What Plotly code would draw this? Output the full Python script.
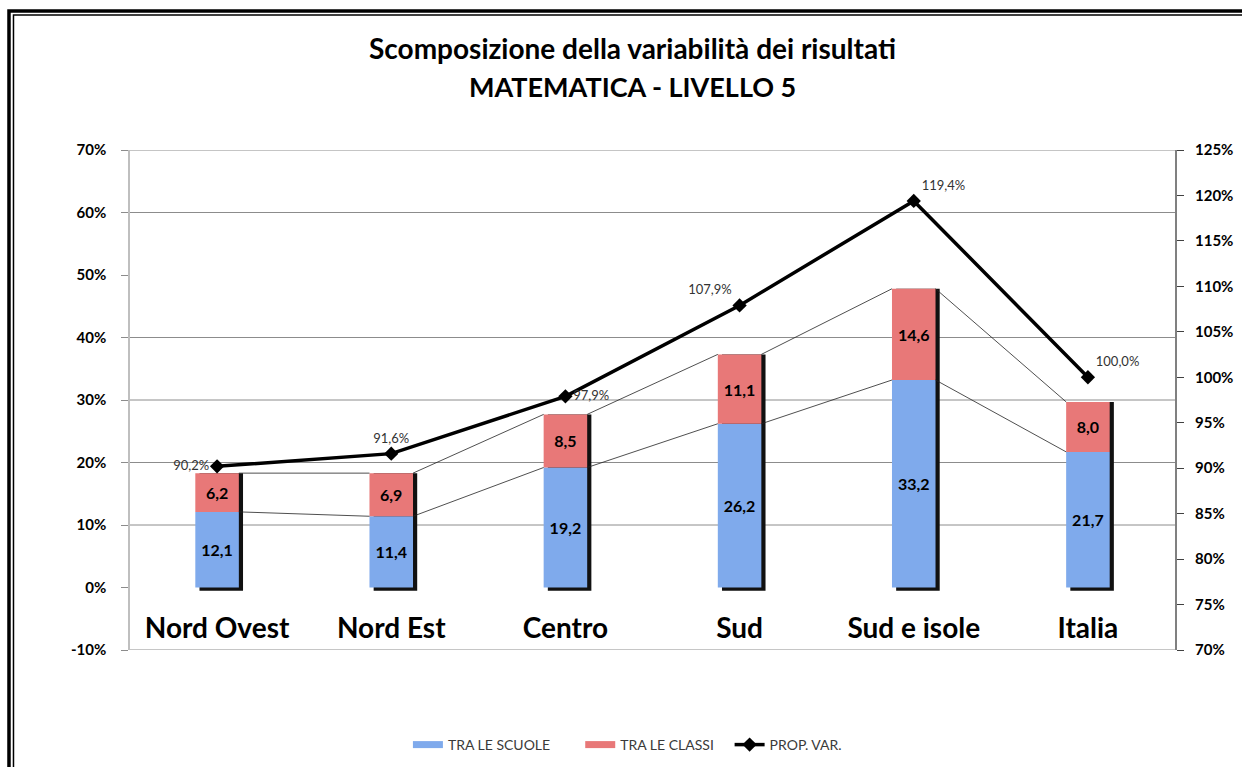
import plotly.graph_objects as go

# ---------------------------------------------------------------------------
# Data
# ---------------------------------------------------------------------------
AREE = ["Nord Ovest", "Nord Est", "Centro", "Sud", "Sud e isole", "Italia"]
TRA_SCUOLE = [12.1, 11.4, 19.2, 26.2, 33.2, 21.7]
TRA_CLASSI = [6.2, 6.9, 8.5, 11.1, 14.6, 8.0]
PROP_VAR = [90.2, 91.6, 97.9, 107.9, 119.4, 100.0]

LEFT_TICKS = list(range(-10, 71, 10))
RIGHT_TICKS = list(range(70, 126, 5))
GRID_LEVELS = [-10, 10, 20, 30, 40, 60, 70]

# ---------------------------------------------------------------------------
# Style
# ---------------------------------------------------------------------------
FONT = "Lato, Carlito, 'Open Sans', sans-serif"
BLUE = "#7FAAEC"
RED = "#E87878"
BAR_W = 0.25
SHADOW_DX = 0.024

x = list(range(len(AREE)))
totals = [s + c for s, c in zip(TRA_SCUOLE, TRA_CLASSI)]
bar_font = dict(family=FONT, size=16, color="#000000", weight="bold")

fig = go.Figure()

# drop shadow behind each stacked column
fig.add_trace(go.Bar(
    x=x, y=[t + 0.5 for t in totals], base=[-0.5] * len(x),
    width=BAR_W, offset=-BAR_W / 2 + SHADOW_DX,
    marker=dict(color="#111111", line=dict(width=0)),
    showlegend=False, hoverinfo="skip",
))

fig.add_trace(go.Bar(
    x=x, y=TRA_SCUOLE, base=[0] * len(x), name="TRA LE SCUOLE",
    width=BAR_W, offset=-BAR_W / 2, showlegend=False,
    marker=dict(color=BLUE, line=dict(width=0)),
    texttemplate="%{y:.1f}", textposition="inside", insidetextanchor="middle",
    textangle=0, constraintext="none", textfont=bar_font,
))

fig.add_trace(go.Bar(
    x=x, y=TRA_CLASSI, base=TRA_SCUOLE, name="TRA LE CLASSI",
    width=BAR_W, offset=-BAR_W / 2, showlegend=False,
    marker=dict(color=RED, line=dict(width=0)),
    texttemplate="%{y:.1f}", textposition="inside", insidetextanchor="middle",
    textangle=0, constraintext="none", textfont=bar_font,
))

# Excel-style series lines linking the bar tops
for level in (TRA_SCUOLE, totals):
    sx, sy = [], []
    for i in range(len(x) - 1):
        sx += [x[i] + BAR_W / 2, x[i + 1] - BAR_W / 2, None]
        sy += [level[i], level[i + 1], None]
    fig.add_trace(go.Scatter(
        x=sx, y=sy, mode="lines", line=dict(color="#222222", width=0.8),
        showlegend=False, hoverinfo="skip",
    ))

# legend proxies: wide flat swatches like the Excel legend
for name, col, pad in (("TRA LE SCUOLE", BLUE, 7), ("TRA LE CLASSI", RED, 3)):
    fig.add_trace(go.Scatter(x=[None], y=[None], mode="lines",
                             name=name + "\u00a0" * pad,
                             line=dict(color=col, width=7)))

fig.add_trace(go.Scatter(
    x=x, y=PROP_VAR, name="PROP. VAR.", yaxis="y2",
    mode="lines+markers+text",
    line=dict(color="#000000", width=3.5),
    marker=dict(symbol="diamond", size=11, color="#000000"),
    texttemplate="%{y:.1f}%",
    textposition=["middle left", "top center", "middle right",
                  "top left", "top right", "top right"],
    textfont=dict(family=FONT, size=13, color="#333333"),
))

# gridlines
for g in GRID_LEVELS:
    fig.add_shape(type="line", xref="paper", yref="y", x0=0, x1=1, y0=g, y1=g,
                  line=dict(color="#8C8C8C", width=1), layer="below")

# double frame round the chart
fig.add_shape(type="rect", xref="paper", yref="paper",
              x0=-0.1158, x1=1.3, y0=-0.5, y1=1.278,
              line=dict(color="#000000", width=3.5))
fig.add_shape(type="rect", xref="paper", yref="paper",
              x0=-0.1115, x1=1.3, y0=-0.5, y1=1.27,
              line=dict(color="#000000", width=1.5))

fig.add_annotation(text="Scomposizione della variabilità dei risultati",
                   xref="paper", yref="paper", x=0.4813, y=1.204,
                   showarrow=False, yanchor="middle",
                   font=dict(family=FONT, size=28, color="#000000", weight="bold"))
fig.add_annotation(text="MATEMATICA - LIVELLO 5",
                   xref="paper", yref="paper", x=0.4813, y=1.128,
                   showarrow=False, yanchor="middle",
                   font=dict(family=FONT, size=27, color="#000000", weight="bold"))

fig.update_layout(
    width=1242, height=767,
    margin=dict(l=130, r=67, t=150, b=117, autoexpand=False),
    paper_bgcolor="#FFFFFF", plot_bgcolor="#FFFFFF",
    barmode="overlay", separators=",.",
    font=dict(family=FONT, color="#000000"),
    showlegend=True,
    legend=dict(orientation="h", x=0.476, xanchor="center", y=-0.19, yanchor="middle",
                font=dict(family=FONT, size=14, color="#3A3A3A"),
                traceorder="normal", itemwidth=30),
    xaxis=dict(range=[-0.5, len(AREE) - 0.5], tickvals=x, ticktext=AREE,
               anchor="free", position=0.125, showgrid=False, zeroline=False,
               showline=False, ticks="", ticklabelstandoff=21, automargin=False,
               tickfont=dict(family=FONT, size=28, color="#000000", weight="bold")),
    yaxis=dict(range=[-10, 70], tickvals=LEFT_TICKS,
               ticktext=[f"{v}%" for v in LEFT_TICKS], automargin=False,
               showgrid=False, zeroline=False, showline=True, linecolor="#BFBFBF",
               linewidth=1.5, ticks="outside", ticklen=7, tickcolor="#8C8C8C",
               ticklabelstandoff=12,
               tickfont=dict(family=FONT, size=15, color="#000000", weight="bold")),
    yaxis2=dict(range=[70, 125], tickvals=RIGHT_TICKS,
                ticktext=[f"{v}%" for v in RIGHT_TICKS], automargin=False,
                overlaying="y", side="right", showgrid=False, zeroline=False,
                showline=True, linecolor="#808080", linewidth=2,
                ticks="outside", ticklen=7, tickcolor="#404040",
                ticklabelstandoff=8,
                tickfont=dict(family=FONT, size=15, color="#000000", weight="bold")),
)

fig.write_html("out.html", config={"displayModeBar": False},
               post_script="document.body.style.margin='0';")
